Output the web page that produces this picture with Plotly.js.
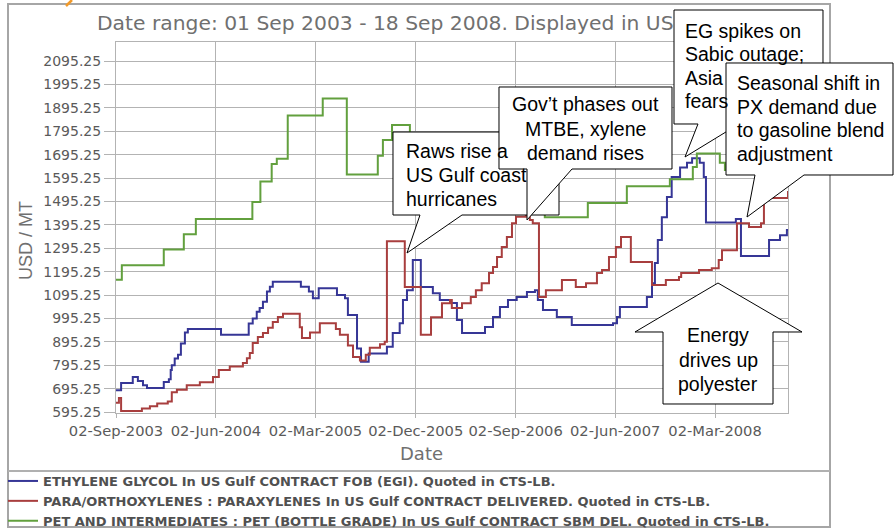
<!DOCTYPE html>
<html><head><meta charset="utf-8">
<script src="https://cdn.plot.ly/plotly-3.0.1.min.js"></script>
<style>html,body{margin:0;padding:0;background:#fff;}#chart{width:895px;height:529px;}</style>
</head><body><div id="chart"></div>
<script>
// ---------------- data ----------------
const seriesNames = [
  'ETHYLENE GLYCOL In US Gulf CONTRACT FOB (EGI). Quoted in CTS-LB.',
  'PARA/ORTHOXYLENES : PARAXYLENES In US Gulf CONTRACT DELIVERED. Quoted in CTS-LB.',
  'PET AND INTERMEDIATES : PET (BOTTLE GRADE) In US Gulf CONTRACT SBM DEL. Quoted in CTS-LB.'
];
const egDates = ['2003-09-02','2003-09-16','2003-10-18','2003-11-01','2003-11-15','2003-11-26','2004-01-11','2004-01-25','2004-01-30','2004-02-02','2004-02-10','2004-02-19','2004-02-27','2004-03-09','2004-03-17','2004-06-16','2004-08-31','2004-09-11','2004-09-22','2004-09-30','2004-10-09','2004-10-20','2004-10-28','2004-11-05','2005-01-21','2005-02-12','2005-02-23','2005-03-11','2005-04-30','2005-05-22','2005-05-30','2005-06-24','2005-07-05','2005-07-26','2005-09-14','2005-09-30','2005-10-19','2005-10-28','2005-11-08','2005-11-24','2005-12-16','2006-01-18','2006-02-06','2006-03-06','2006-03-25','2006-04-08','2006-06-10','2006-07-02','2006-07-21','2006-08-12','2006-09-05','2006-10-03','2006-10-25','2006-11-02','2006-11-16','2006-12-24','2007-02-03','2007-05-27','2007-06-07','2007-06-15','2007-08-28','2007-09-11','2007-09-19','2007-09-27','2007-10-08','2007-10-22','2007-11-04','2007-11-27','2007-12-16','2007-12-30','2008-01-20','2008-01-31','2008-02-06','2008-04-28','2008-05-12','2008-07-28','2008-08-27','2008-09-15','2008-09-18'];
const egValues = [688,719,745,728,710,698,723,735,775,795,824,840,888,935,950,925,974,995,1024,1040,1067,1110,1131,1152,1131,1110,1081,1124,1095,1081,1010,867,810,845,874,933,975,1074,1116,1245,1129,1103,1074,1061,988,933,959,1001,1044,1074,1087,1108,1116,1074,1031,1001,967,975,1001,1044,1087,1146,1232,1330,1428,1514,1600,1640,1660,1680,1660,1600,1405,1420,1262,1330,1351,1373,1373];

const pxDates = ['2003-09-02','2003-09-10','2003-09-16','2003-11-12','2003-12-04','2003-12-24','2004-01-22','2004-02-02','2004-02-16','2004-03-14','2004-04-19','2004-05-25','2004-06-10','2004-07-10','2004-08-15','2004-08-26','2004-09-03','2004-09-11','2004-09-25','2004-10-09','2004-10-23','2004-11-05','2004-11-19','2004-12-03','2005-01-18','2005-01-24','2005-02-15','2005-03-14','2005-04-27','2005-05-08','2005-05-30','2005-06-13','2005-07-02','2005-07-18','2005-07-29','2005-08-26','2005-09-08','2005-09-14','2005-11-02','2005-12-16','2006-01-13','2006-02-12','2006-03-06','2006-03-11','2006-04-08','2006-05-02','2006-05-16','2006-06-01','2006-06-21','2006-07-02','2006-07-13','2006-07-26','2006-08-09','2006-08-23','2006-09-03','2006-09-30','2006-10-11','2006-10-19','2006-11-05','2006-11-24','2007-01-07','2007-02-14','2007-03-14','2007-04-13','2007-04-27','2007-05-16','2007-06-04','2007-06-18','2007-07-15','2007-09-11','2007-10-19','2007-11-24','2007-11-30','2008-01-18','2008-02-22','2008-03-12','2008-03-21','2008-05-01','2008-06-03','2008-07-06','2008-07-14','2008-09-18'];
const pxValues = [635,655,600,610,620,632,640,680,690,710,722,745,775,790,805,825,847,890,916,933,955,980,1001,1015,958,912,935,975,950,925,880,830,815,840,870,885,895,1325,1130,925,1000,1060,1074,1040,1060,1087,1116,1146,1189,1215,1258,1300,1343,1402,1430,1446,1416,1402,1087,1116,1159,1129,1146,1189,1202,1258,1300,1343,1236,1138,1159,1172,1189,1202,1210,1245,1287,1402,1386,1402,1510,1540];

const petDates = ['2003-09-02','2003-09-18','2004-01-11','2004-03-06','2004-04-08','2004-09-10','2004-10-02','2004-11-02','2004-11-16','2004-12-16','2005-03-22','2005-05-27','2005-08-20','2005-09-03','2005-09-28','2005-11-16','2006-01-01','2006-04-01','2006-08-01','2006-11-21','2007-03-19','2007-07-04','2007-10-30','2008-01-01','2008-01-12','2008-03-15','2008-03-29','2008-09-18'];
const petValues = [1160,1222,1290,1355,1420,1493,1580,1655,1678,1862,1935,1610,1690,1758,1822,1770,1700,1640,1560,1428,1488,1560,1590,1642,1700,1660,1630,1630];

const xTickDates = ['2003-09-02','2004-06-02','2005-03-02','2005-12-02','2006-09-02','2007-06-02','2008-03-02'];
const yTickValues = [595.25,695.25,795.25,895.25,995.25,1095.25,1195.25,1295.25,1395.25,1495.25,1595.25,1695.25,1795.25,1895.25,1995.25,2095.25];

const titleText = 'Date range: 01 Sep 2003 - 18 Sep 2008. Displayed in US';
const yTitle = 'USD / MT';
const xTitle = 'Date';
const rawsLines = ['Raws rise a','US Gulf coast','hurricanes'];
const govLines = ['Gov\u2019t phases out','MTBE, xylene','demand rises'];
const egLines = ['EG spikes on','Sabic outage;','Asia','fears'];
const seasonLines = ['Seasonal shift in','PX demand due','to gasoline blend','adjustment'];
const energyLines = ['Energy','drives up','polyester'];

// ---------------- geometry helpers ----------------
const L = 116, R = 788, T = 42, B = 413;
const px = x => (x - L) / (R - L);
const py = y => (B - y) / (B - T);
const pathOf = pts => 'M' + pts.map(p => px(p[0]).toFixed(5) + ',' + py(p[1]).toFixed(5)).join('L') + 'Z';

const calloutFont = {family: 'Liberation Sans, Arial, sans-serif', size: 19.5, color: '#000'};
function lineAnns(lines, x, y0, dy, anchor) {
  return lines.map((t, i) => ({
    xref: 'paper', yref: 'paper', x: px(x), y: py(y0 + i * dy), text: t, showarrow: false,
    xanchor: anchor, yanchor: 'middle', font: calloutFont
  }));
}
function bubble(pts) {
  return {type: 'path', xref: 'paper', yref: 'paper', layer: 'above', path: pathOf(pts),
          fillcolor: '#ffffff', line: {color: '#000000', width: 1}};
}

const grid = '#b3b3b3';
const tickFont = {family: 'DejaVu Sans, sans-serif', size: 14, color: '#5a5a5a'};

const traces = [
  {x: egDates, y: egValues, name: seriesNames[0], type: 'scatter', mode: 'lines', line: {shape: 'hv', color: '#363696', width: 2}},
  {x: pxDates, y: pxValues, name: seriesNames[1], type: 'scatter', mode: 'lines', line: {shape: 'hv', color: '#a83e3e', width: 2}},
  {x: petDates, y: petValues, name: seriesNames[2], type: 'scatter', mode: 'lines', line: {shape: 'hv', color: '#62a03e', width: 2}}
];

const shapes = [
  {type: 'rect', xref: 'paper', yref: 'paper', layer: 'below', x0: px(8), x1: px(830), y0: py(527), y1: py(4), line: {color: '#a6a6a6', width: 2}, fillcolor: 'rgba(0,0,0,0)'},
  {type: 'line', xref: 'paper', yref: 'paper', layer: 'below', x0: px(8), x1: px(830), y0: py(471), y1: py(471), line: {color: '#b0b0b0', width: 2}},
  {type: 'line', xref: 'paper', yref: 'paper', x0: px(72), x1: px(66), y0: py(0), y1: py(6), line: {color: '#f29a2a', width: 2.5}},
  bubble([[393,132],[559,132],[559,215],[462,215],[407,253],[420,215],[393,215]]),
  bubble([[499,87],[672,87],[672,169],[572,169],[527,220],[527,169],[499,169]]),
  bubble([[674,10],[823,10],[823,124],[739,124],[685,157],[698,124],[674,124]]),
  bubble([[726,63],[893,63],[893,175],[804,175],[747,217],[755,175],[726,175]]),
  bubble([[718,283],[802,332],[773,332],[773,404],[663,404],[663,332],[635,332]])
];

const annotations = [
  {xref: 'paper', yref: 'paper', x: px(95), y: py(23), text: titleText, showarrow: false, xanchor: 'left', yanchor: 'middle',
   font: {family: 'DejaVu Sans, sans-serif', size: 20.3, color: '#707070'}},
  {xref: 'paper', yref: 'paper', x: px(26), y: py(241), text: yTitle, showarrow: false, textangle: -90, xanchor: 'center', yanchor: 'middle',
   font: {family: 'Liberation Sans, Arial, sans-serif', size: 18, color: '#707070'}},
  {xref: 'paper', yref: 'paper', x: px(421), y: py(453), text: xTitle, showarrow: false, xanchor: 'center', yanchor: 'middle',
   font: {family: 'DejaVu Sans, sans-serif', size: 18, color: '#707070'}}
].concat(
  lineAnns(rawsLines, 404, 151, 24, 'left'),
  lineAnns(govLines, 585, 104, 24.5, 'center'),
  lineAnns(egLines, 683, 31, 23.5, 'left'),
  lineAnns(seasonLines, 735, 83, 23.7, 'left'),
  lineAnns(energyLines, 718, 335, 24.5, 'center')
);

const layout = {
  width: 895, height: 529,
  margin: {l: L, r: 895 - R, t: T, b: 529 - B, pad: 0, autoexpand: false},
  paper_bgcolor: '#ffffff', plot_bgcolor: '#ffffff',
  showlegend: true,
  legend: {xref: 'container', yref: 'container', x: 3 / 895, y: (529 - 466) / 529, xanchor: 'left', yanchor: 'top',
           orientation: 'v', tracegroupgap: 0, bgcolor: 'rgba(0,0,0,0)', borderwidth: 0,
           font: {family: 'DejaVu Sans, sans-serif', size: 13, color: '#505050', weight: 'bold'}},
  xaxis: {type: 'date', range: ['2003-09-02', '2008-09-18'], tickvals: xTickDates, tickformat: '%d-%b-%Y',
          showgrid: true, gridcolor: grid, gridwidth: 1, showline: true, mirror: true, linecolor: grid, linewidth: 1,
          ticks: 'outside', ticklen: 4, tickcolor: grid, tickfont: Object.assign({}, tickFont, {size: 14.7}), tickangle: 0, zeroline: false, automargin: false},
  yaxis: {range: [591, 2176.6], tickvals: yTickValues, tickformat: '.2f',
          showgrid: true, gridcolor: grid, gridwidth: 1, showline: true, mirror: true, linecolor: grid, linewidth: 1,
          ticks: 'outside', ticklen: 11, tickcolor: grid, tickfont: tickFont, zeroline: false, automargin: false},
  shapes: shapes,
  annotations: annotations,
  hovermode: false
};

Plotly.newPlot('chart', traces, layout, {staticPlot: true, displayModeBar: false});
</script></body></html>
